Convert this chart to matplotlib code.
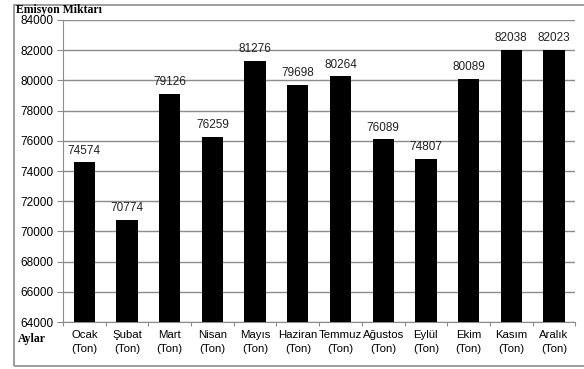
import matplotlib
matplotlib.use('Agg')
import matplotlib.pyplot as plt
from matplotlib.patches import Rectangle

# monthly emission amounts
months = ['Ocak', 'Şubat', 'Mart', 'Nisan', 'Mayıs', 'Haziran', 'Temmuz',
          'Ağustos', 'Eylül', 'Ekim', 'Kasım', 'Aralık']
emission = [74574, 70774, 79126, 76259, 81276, 79698, 80264,
            76089, 74807, 80089, 82038, 82023]
yticks = list(range(64000, 84001, 2000))

fig = plt.figure(figsize=(5.84, 3.69), dpi=100)
ax = fig.add_axes([0.108, 0.127, 0.877, 0.819])

x = list(range(len(months)))
ax.bar(x, emission, width=0.5, color='black', zorder=3)
for i, v in enumerate(emission):
    ax.text(i, v + 380, str(v), ha='center', va='bottom', fontsize=8.5,
            family='Liberation Sans', color='#222222')

ax.set_xlim(-0.5, len(months) - 0.5)
ax.set_ylim(64000, 84000)
ax.set_yticks(yticks)
ax.set_yticklabels([str(t) for t in yticks], fontsize=8.5, family='Liberation Sans')
ax.yaxis.grid(True, color='#8c8c8c', linewidth=1)
ax.set_axisbelow(True)

ax.set_xticks([i + 0.5 for i in range(-1, len(months))], minor=False)
ax.set_xticklabels([])
ax.tick_params(axis='x', length=3, color='#8c8c8c', direction='out')
ax.tick_params(axis='y', length=4, color='#8c8c8c', direction='out', pad=3)
ax.set_xticks(x, minor=True)
ax.set_xticklabels([m + '\n(Ton)' for m in months], minor=True,
                   fontsize=8.2, family='Liberation Sans', linespacing=1.5)
ax.tick_params(axis='x', which='minor', length=0, pad=6)

for s in ['top', 'right']:
    ax.spines[s].set_visible(False)
for s in ['left', 'bottom']:
    ax.spines[s].set_color('#8c8c8c')

# outer frame and titles
fig.patches.append(Rectangle((14 / 584, 3 / 369), 1.0, 1 - 8 / 369,
                             transform=fig.transFigure, fill=False,
                             edgecolor='#8c8c8c', linewidth=1.2))
fig.text(16 / 584, 1 - 10 / 369, 'Emisyon Miktarı', family='Liberation Serif',
         weight='bold', fontsize=8.5, va='center', ha='left')
fig.text(18 / 584, 1 - 339 / 369, 'Aylar', family='Liberation Serif',
         weight='bold', fontsize=8.5, va='center', ha='left')

fig.savefig('out.png', dpi=100)
